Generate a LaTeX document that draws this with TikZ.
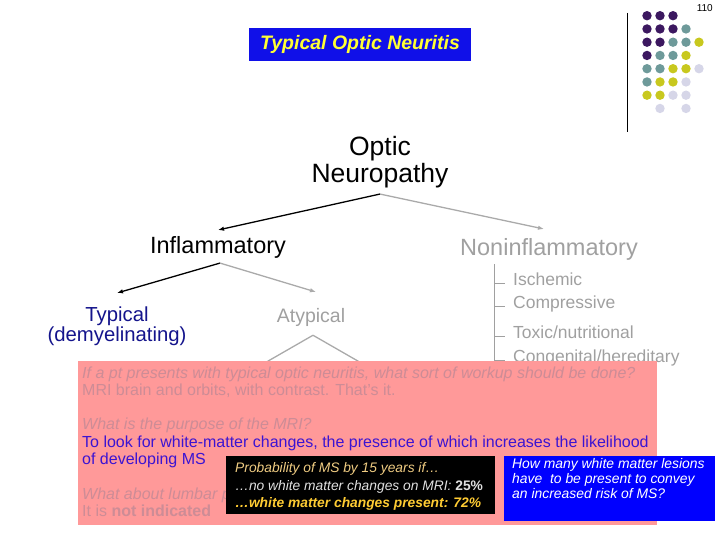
\documentclass[tikz,border=0pt]{standalone}
\usepackage{fontspec}
\setmainfont{Liberation Sans}
\usetikzlibrary{arrows.meta}
\definecolor{titleblue}{RGB}{16, 16, 232}
\definecolor{boxblue}{RGB}{0, 0, 255}
\definecolor{titleyellow}{RGB}{255, 255, 51}
\definecolor{navytext}{RGB}{20, 20, 140}
\definecolor{fadegray}{RGB}{160, 160, 160}
\definecolor{notepink}{RGB}{255, 153, 153}
\definecolor{notefade}{RGB}{205, 140, 150}
\definecolor{noteblue}{RGB}{60, 20, 210}
\definecolor{probgold}{RGB}{240, 204, 130}
\definecolor{probbold}{RGB}{255, 204, 51}
\definecolor{dotpurple}{RGB}{60, 24, 96}
\definecolor{dotteal}{RGB}{110, 154, 154}
\definecolor{dotyellow}{RGB}{200, 200, 30}
\definecolor{dotlilac}{RGB}{214, 214, 232}
\newcommand{\fsz}[2]{\fontsize{#1}{#2}\selectfont}

\begin{document}
\begin{tikzpicture}[x=1pt, y=-1pt, every node/.style={inner sep=0pt},
    blackarrow/.style={-{Latex[length=6pt,width=4.5pt]}, line width=1.3pt, black},
    grayarrow/.style={-{Latex[length=6pt,width=4.5pt]}, line width=1.3pt, fadegray!90},
    listitem/.style={anchor=base west, font=\fsz{17.5}{20}, text=fadegray}]
        \useasboundingbox (0,0) rectangle (720,540);

        % Page number, rule and dot pattern
        \node[font=\fsz{10}{12}, anchor=base east] (pageno) at (713,12) {110};
        \draw[line width=0.8pt] (627,13) -- (627,132);
        \foreach \ca/\cb/\cc/\cd/\ce [count=\r from 0] in {
            dotpurple/dotpurple/dotpurple/none/none,
            dotpurple/dotpurple/dotpurple/dotteal/none,
            dotpurple/dotpurple/dotteal/dotteal/dotyellow,
            dotpurple/dotteal/dotteal/dotyellow/none,
            dotteal/dotteal/dotyellow/dotyellow/dotlilac,
            dotteal/dotyellow/dotyellow/dotlilac/none,
            dotyellow/dotyellow/dotlilac/dotlilac/none,
            none/dotlilac/none/dotlilac/none}{
          \foreach \c [count=\k from 0] in {\ca,\cb,\cc,\cd,\ce}{
            \path[fill=\c] ({647+13*\k},{15.7+13.25*\r}) circle (4.7);
          }
        }

        % Title
        \node[fill=titleblue, minimum width=222pt, minimum height=33pt,
          font=\fsz{19.5}{21}\bfseries\itshape, text=titleyellow] (title) at (360,44.5)
          {Typical Optic Neuritis};

        % Tree
        \node[align=center, font=\fsz{26.5}{27}] (optic) at (380,162) {Optic\\Neuropathy};
        \node[anchor=base, font=\fsz{23.5}{26}] (infl) at (218,253) {Inflammatory};
        \node[anchor=base, font=\fsz{23.5}{26}, text=fadegray] (noninfl) at (549,255) {Noninflammatory};
        \node[align=center, font=\fsz{20.3}{18.5}, text=navytext] (typical) at (117,326)
          {Typical\\(demyelinating)};
        \node[anchor=base, font=\fsz{19.5}{22}, text=fadegray] (atyp) at (311,322) {Atypical};

        % arrow tips just above the labels
        \coordinate (infltip) at (218,230);
        \coordinate (noninfltip) at (544,229);
        \coordinate (typicaltip) at (117,293);
        \coordinate (atyptip) at (316,292);
        \coordinate (atypl) at (256,368);
        \coordinate (atypr) at (370,368);

        \draw[blackarrow] ([yshift=-6pt]optic.south) -- (infltip);
        \draw[grayarrow] ([yshift=-6pt]optic.south) -- (noninfltip);
        \draw[blackarrow] ([xshift=2pt,yshift=-5pt]infl.south) -- (typicaltip);
        \draw[grayarrow] ([xshift=2pt,yshift=-5pt]infl.south) -- (atyptip);
        \draw[grayarrow] ([xshift=2pt,yshift=-9pt]atyp.south) -- (atypl);
        \draw[grayarrow] ([xshift=2pt,yshift=-9pt]atyp.south) -- (atypr);

        % Noninflammatory causes
        \coordinate (listtop) at (494,264);
        \coordinate (listbot) at (494,372);
        \draw[fadegray, line width=0.8pt] (listtop) -- (listbot);
        \foreach \y/\name/\lab in {285/isch/{Ischemic}, 308/compr/{Compressive},
            338/toxic/{Toxic/nutritional}, 362/congen/{Congenital/hereditary}}{
          \node[listitem] (\name) at (513,\y) {\lab};
          \draw[fadegray, line width=0.8pt] (494,\y-2) -- ([xshift=-8pt,yshift=2pt]\name.base west);
        }

        % Notes
        \fill[notepink] (78,361) rectangle (657,525);
        \begin{scope}[every node/.style={inner sep=0pt, anchor=base west, font=\fsz{16}{18}}]
          \node[text=notefade, font=\fsz{16}{18}\itshape] (q1) at (82,378)
            {If a pt presents with typical optic neuritis, what sort of workup should be done?};
          \node[text=notefade] (a1) at (82,395) {MRI brain and orbits, with contrast. That's it.};
          \node[text=notefade, font=\fsz{16}{18}\itshape] (q2) at (82,429) {What is the purpose of the MRI?};
          \node[text=noteblue] (a2a) at (82,447)
            {To look for white-matter changes, the presence of which increases the likelihood};
          \node[text=noteblue] (a2b) at (82,464) {of developing MS};
          \node[text=notefade, font=\fsz{16}{18}\itshape] (q3) at (82,499) {What about lumbar puncture?};
          \node[text=notefade] (a3) at (82,516) {It is \textbf{not indicated}};
        \end{scope}

        % Probability box
        \fill[black] (226,456) rectangle (495,514);
        \node[anchor=base west, font=\fsz{13.8}{15}\itshape, text=probgold] (pr1) at (235,472)
          {Probability of MS by 15 years if…};
        \node[anchor=base west, font=\fsz{13.8}{15}\itshape, text=white!88!black] (pr2) at (235,490)
          {…no white matter changes on MRI: \textbf{\upshape 25\%}};
        \node[anchor=base west, font=\fsz{13.8}{15}\bfseries\itshape, text=probbold] (pr3) at (235,507)
          {…white matter changes present: 72\%};

        % Lesion question box
        \fill[boxblue] (504,456) rectangle (715,521);
        \node[anchor=north west, align=left, font=\fsz{13.9}{15}\itshape, text=white] (lesq) at (512,458)
          {How many white matter lesions\\have\ \ to be present to convey\\an increased risk of MS?};
      \end{tikzpicture}
\end{document}
